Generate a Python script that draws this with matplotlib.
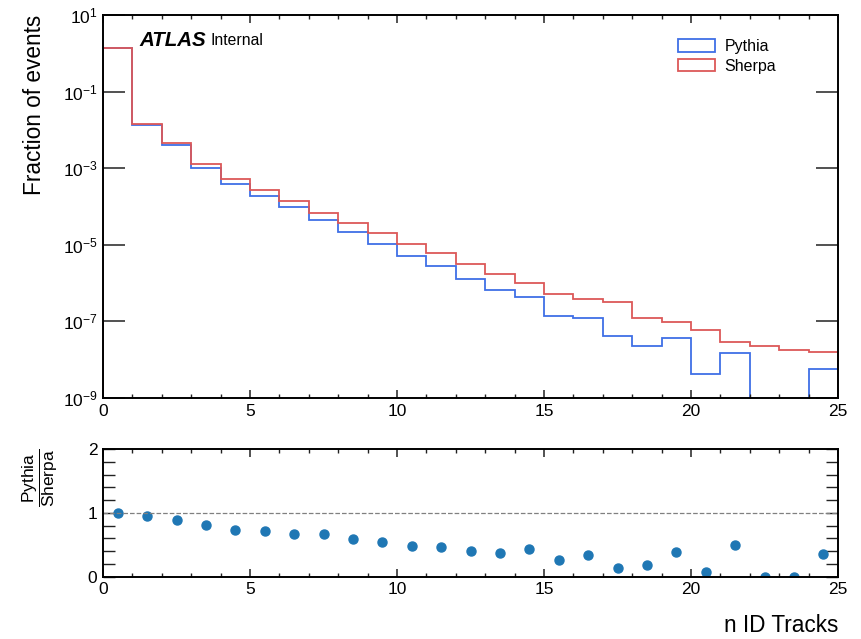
import numpy as np
import matplotlib
matplotlib.use("Agg")
import matplotlib.pyplot as plt
from matplotlib.patches import Patch
from matplotlib.ticker import MultipleLocator, LogLocator, NullLocator

plt.rcParams['font.family'] = ['Liberation Sans', 'DejaVu Sans']
plt.rcParams['mathtext.fontset'] = 'custom'
plt.rcParams['mathtext.rm'] = 'Liberation Sans'
plt.rcParams['mathtext.it'] = 'Liberation Sans:italic'
plt.rcParams['mathtext.bf'] = 'Liberation Sans:bold'
plt.rcParams['axes.linewidth'] = 1.4

# bin edges: n ID tracks 0..25
edges = np.arange(0, 26)

# fraction of events per bin
pythia = [1.40, 1.35e-2, 4.12e-3, 1.01e-3, 3.89e-4, 1.91e-4, 9.51e-5, 4.57e-5,
          2.21e-5, 1.07e-5, 5.01e-6, 2.79e-6, 1.28e-6, 6.49e-7, 4.27e-7, 1.35e-7,
          1.26e-7, 4.27e-8, 2.26e-8, 3.72e-8, 4.27e-9, 1.46e-8, 0.0, 0.0, 5.62e-9]
sherpa = [1.40, 1.43e-2, 4.63e-3, 1.26e-3, 5.32e-4, 2.65e-4, 1.42e-4, 6.89e-5,
          3.71e-5, 2.00e-5, 1.05e-5, 6.00e-6, 3.21e-6, 1.73e-6, 9.89e-7, 5.19e-7,
          3.78e-7, 3.27e-7, 1.23e-7, 9.64e-8, 5.96e-8, 2.95e-8, 2.28e-8, 1.79e-8,
          1.56e-8]

pythia = np.array(pythia)
sherpa = np.array(sherpa)
centers = 0.5 * (edges[:-1] + edges[1:])
ratio = pythia / sherpa

blue = '#3f6fe6'
red = '#dc5858'

fig = plt.figure(figsize=(8.62, 6.39), dpi=100)
ax = fig.add_axes([0.1195, 0.3772, 0.8527, 0.5993])
rax = fig.add_axes([0.1195, 0.0978, 0.8527, 0.1995])

ax.stairs(pythia, edges, color=blue, lw=1.3)
ax.stairs(sherpa, edges, color=red, lw=1.3)
ax.set_yscale('log')
ax.set_xlim(0, 25)
ax.set_ylim(1e-9, 10)
ax.yaxis.set_major_locator(LogLocator(base=100.0, subs=(0.1,), numticks=10))
ax.yaxis.set_minor_locator(NullLocator())
ax.xaxis.set_major_locator(MultipleLocator(5))
ax.xaxis.set_minor_locator(MultipleLocator(1))
ax.tick_params(axis='both', which='both', direction='in', top=True, right=True,
               labelsize=12.5, color='#222222')
ax.tick_params(axis='x', which='major', length=5.5, width=1.1, pad=4)
ax.tick_params(axis='x', which='minor', length=3.2, width=1.0)
ax.tick_params(axis='y', which='major', length=15.5, width=1.1, pad=4)
ax.set_ylabel('Fraction of events', fontsize=16.3, loc='top', labelpad=12)

handles = [Patch(facecolor='none', edgecolor=blue, lw=1.3, label='Pythia'),
           Patch(facecolor='none', edgecolor=red, lw=1.3, label='Sherpa')]
ax.legend(handles=handles, loc='upper right', bbox_to_anchor=(0.935, 0.975),
          frameon=False, fontsize=11.5, handlelength=2.3, handleheight=0.8,
          labelspacing=0.3, handletextpad=0.6)

ax.text(0.05, 0.957, 'ATLAS', transform=ax.transAxes, fontsize=14.8,
        fontweight='bold', fontstyle='italic', va='top')
ax.text(0.146, 0.952, 'Internal', transform=ax.transAxes, fontsize=11.3,
        va='top')

rax.plot(centers, ratio, 'o', color='#1f77b4', ms=6.5, clip_on=True)
rax.axhline(1, color='grey', ls='--', lw=0.9)
rax.set_xlim(0, 25)
rax.set_ylim(0, 2)
rax.xaxis.set_major_locator(MultipleLocator(5))
rax.xaxis.set_minor_locator(MultipleLocator(1))
rax.yaxis.set_major_locator(MultipleLocator(1))
rax.yaxis.set_minor_locator(MultipleLocator(0.2))
rax.tick_params(axis='both', which='both', direction='in', top=True, right=True,
                labelsize=12.5, color='#222222')
rax.tick_params(axis='x', which='major', length=5.5, width=1.1, pad=4)
rax.tick_params(axis='x', which='minor', length=3.2, width=1.0)
rax.tick_params(axis='y', which='both', length=8.4, width=1.0, pad=4)
rax.set_ylabel(r'$\dfrac{\mathrm{Pythia}}{\mathrm{Sherpa}}$', fontsize=12.5,
               loc='top', labelpad=20)
rax.set_xlabel('n ID Tracks', fontsize=16.3, loc='right', labelpad=12)

fig.savefig('out.png', dpi=100)
